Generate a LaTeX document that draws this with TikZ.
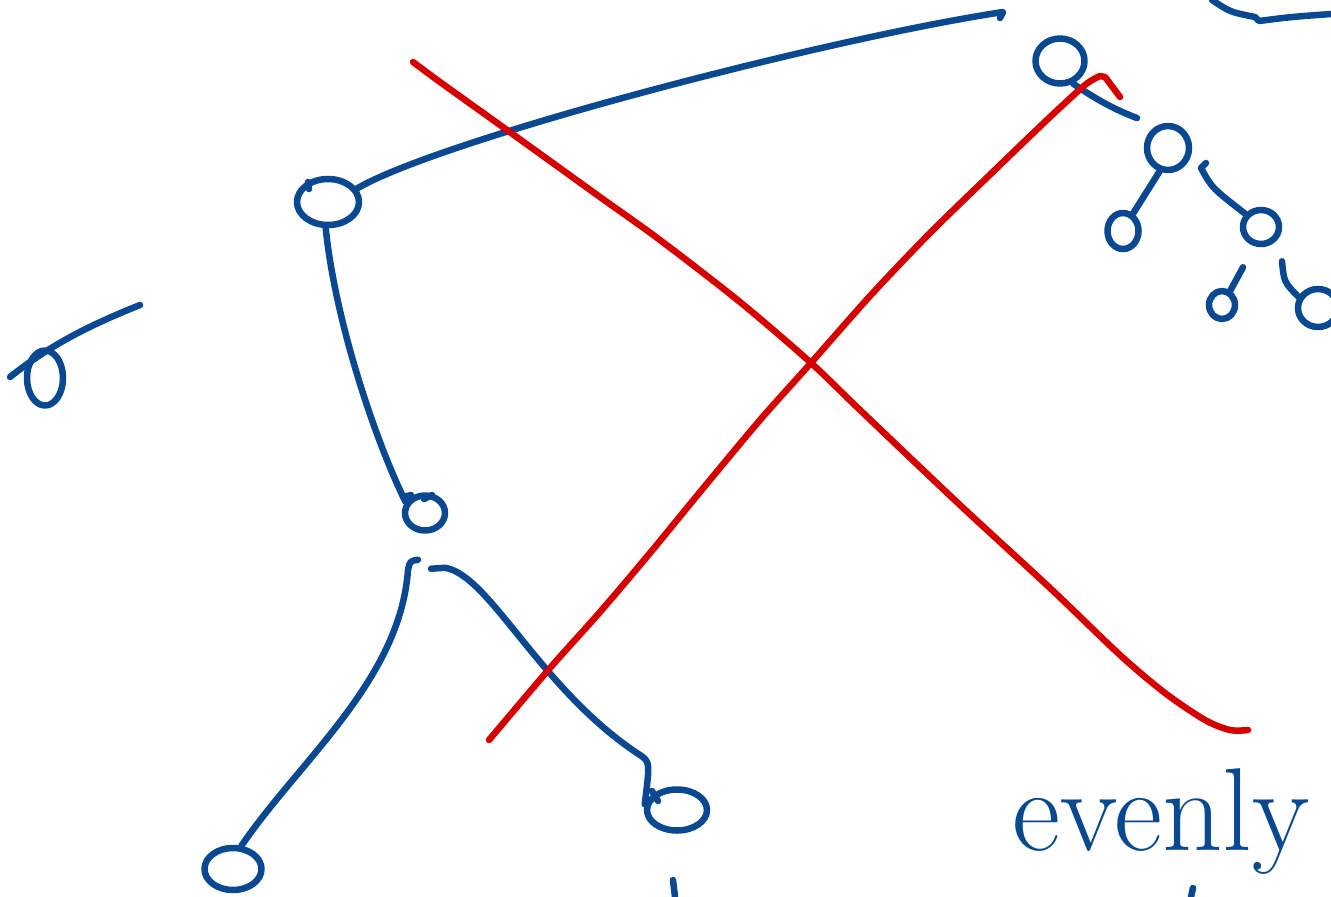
\documentclass[tikz,border=0pt]{standalone}
\usetikzlibrary{shapes.geometric}
\definecolor{penblue}{RGB}{10,73,145}
\definecolor{penred}{RGB}{214,0,0}
\begin{document}
\begin{tikzpicture}[x=1pt,y=-1pt,
  pen/.style={draw=penblue,line width=6.5pt,line cap=round,line join=round},
  redpen/.style={draw=penred,line width=6.5pt,line cap=round,line join=round},
  loopnode/.style={ellipse,pen,inner sep=0pt}]
\useasboundingbox (0,0) rectangle (1331,897);
\clip (0,0) rectangle (1331,897);
\fill[white] (0,0) rectangle (1331,897);

% hand-drawn tree nodes
\node[loopnode,minimum width=62pt,minimum height=46pt] (A) at (328,202) {};
\node[loopnode,minimum width=40pt,minimum height=35pt] (B) at (425,513) {};
\node[loopnode,minimum width=57pt,minimum height=42pt] (C) at (233,869) {};
\node[loopnode,minimum width=60pt,minimum height=41pt] (D) at (677,810) {};
\node[loopnode,minimum width=36pt,minimum height=55pt] (E) at (45,378) {};
\node[loopnode,minimum width=49pt,minimum height=45pt] (F) at (1060,61) {};
\node[loopnode,minimum width=42pt,minimum height=44pt] (G) at (1168,148) {};
\node[loopnode,minimum width=31pt,minimum height=36pt] (H) at (1123,231) {};
\node[loopnode,minimum width=36pt,minimum height=34pt] (I) at (1261,227) {};
\node[loopnode,minimum width=26pt,minimum height=28pt] (J) at (1222,305) {};
\node[loopnode,minimum width=40pt,minimum height=38pt] (K) at (1318,308) {};

% pen-start ticks on the loops
\draw[pen] (309,189) -- (308,182);
\draw[pen] (403,497) -- (411,495);
\draw[pen] (424,499) -- (432,495);
\draw[pen] (652,791) -- (658,801);

% free ends
\coordinate (topend) at (1003,12);
\coordinate (estart) at (10,377);
\coordinate (eend) at (140,305);
\coordinate (trA) at (1212,0);
\coordinate (trB) at (1331,14);
\coordinate (stubA) at (673,880);
\coordinate (stubB) at (1193,888);

% connectors
\draw[pen] (A.25) .. controls (440,140) and (820,40) .. (topend) -- ++(-3,6);
\draw[pen] (A.265) .. controls (335,320) and (375,440) .. (B.150);
\draw[pen] ([shift={(-7,26)}]B.south) .. controls (410,561) .. (408,570) .. controls (400,680) and (300,760) .. (C.70);
\draw[pen] ([shift={(6,35)}]B.south) -- ++(14,-1) .. controls (490,575) and (540,690) .. (640,755) .. controls (650,762) .. (D.170);
\draw[pen] (estart) .. controls (50,345) and (90,325) .. (eend);
\draw[pen] (F.300) .. controls (1090,95) and (1110,108) .. (1137,118);
\draw[pen] (G.250) -- (H.60);
\draw[pen] (1206,163) -- (1201,168) .. controls (1212,188) .. (I.140);
\draw[pen] ([shift={(-18,20)}]I.south) -- (J.60);
\draw[pen] ([shift={(21,14)}]I.south) .. controls (1284,282) .. (K.150);
\draw[pen] (trA) .. controls (1230,12) .. (1255,17) -- (1259,21) .. controls (1290,17) .. (trB);
\draw[pen] (stubA) -- ++(2,17);
\draw[pen] (stubB) -- ++(-2,9);

% red strokes
\draw[redpen] plot[smooth] coordinates {(413,62) (440,82) (500,125) (600,197) (660,240) (740,302) (810,362) (860,410) (960,505) (1050,588) (1120,655) (1165,693) (1205,720) (1230,730) (1248,730)};
\draw[redpen] plot[smooth] coordinates {(489,740) (550,668) (600,612) (650,553) (700,492) (760,420) (810,364) (870,296) (930,233) (1000,165) (1050,117) (1085,85) (1100,76)} -- (1105,77) -- (1120,97);

% text
\node[anchor=base west,inner sep=0pt,text=penblue,font=\fontsize{118}{118}\selectfont] (word) at (1012,850) {evenly};
\end{tikzpicture}
\end{document}
